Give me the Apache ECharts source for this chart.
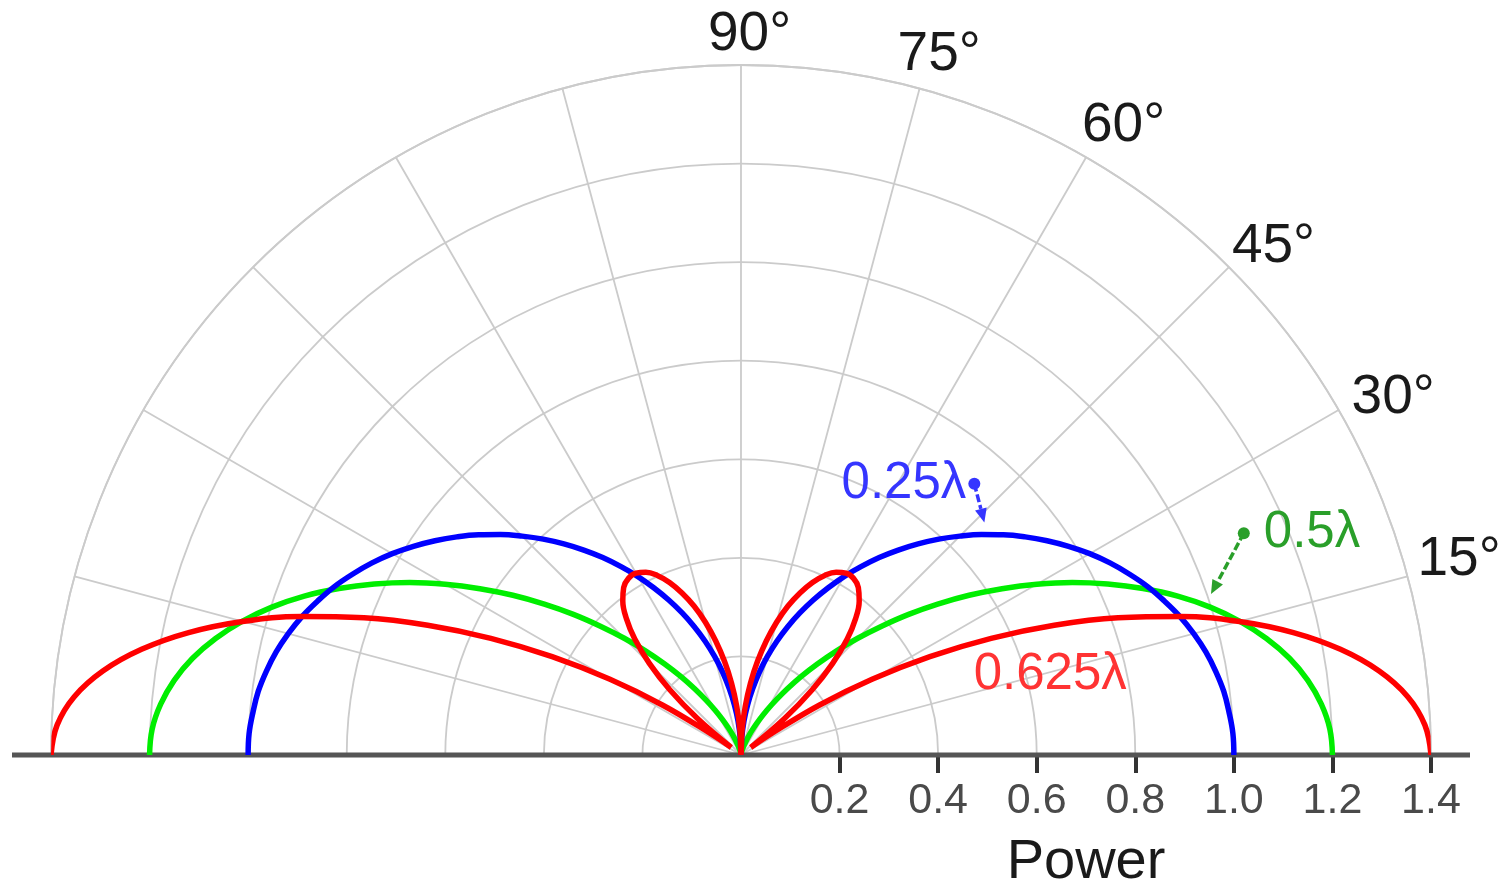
<!DOCTYPE html>
<html>
<head>
<meta charset="utf-8">
<script src="https://cdn.jsdelivr.net/npm/echarts@6/dist/echarts.min.js"></script>
<style>
html,body{margin:0;padding:0;background:#ffffff;}
#chart{width:1505px;height:886px;}
</style>
</head>
<body>
<div id="chart"></div>
<script>
// Elevation angles (degrees) of the right half of the pattern; the left half is its mirror image.
const angles = [0,2.5,5,7.5,10,12.5,15,17.5,20,22.5,25,27.5,30,32.5,35,37.5,40,42.5,45,47.5,50,52.5,55,57.5,60,62.5,65,67.5,70,72.5,75,77.5,80,82.5,85,87.5,90];

// Radial value ("Power") of each pattern at those angles
const blueR  = [1.000,0.999,0.994,0.988,0.978,0.966,0.951,0.934,0.914,0.893,0.869,0.844,0.817,0.788,0.758,0.727,0.695,0.662,0.628,0.594,0.559,0.524,0.489,0.453,0.418,0.382,0.347,0.312,0.277,0.242,0.207,0.172,0.137,0.103,0.069,0.034,0.000];
const greenR = [1.200,1.196,1.182,1.160,1.130,1.092,1.048,0.998,0.943,0.883,0.821,0.758,0.693,0.628,0.565,0.503,0.444,0.387,0.335,0.286,0.241,0.201,0.164,0.132,0.105,0.081,0.061,0.045,0.031,0.021,0.013,0.008,0.004,0.002,0.001,0.000,0.000];
const redR   = [1.400,1.389,1.358,1.306,1.235,1.148,1.047,0.935,0.814,0.688,0.560,0.432,0.307,0.188,0.077,0.025,0.116,0.196,0.263,0.319,0.362,0.394,0.415,0.425,0.426,0.418,0.402,0.379,0.350,0.317,0.279,0.237,0.193,0.147,0.099,0.050,0.000];

const seriesNames = ['0.5λ', '0.25λ', '0.625λ'];

// Axis ticks
const radiusMax = 1.4;
const radiusStep = 0.2;
const radiusTickValues = [0.2, 0.4, 0.6, 0.8, 1.0, 1.2, 1.4];
const radiusTickLabels = ['0.2', '0.4', '0.6', '0.8', '1.0', '1.2', '1.4'];
const angleTickValues = [15, 30, 45, 60, 75, 90];
const angleTickLabels = ['15°', '30°', '45°', '60°', '75°', '90°'];

// Annotations: text, anchor [r, angle], arrow tip [r, angle]
const annText   = ['0.25λ', '0.5λ', '0.625λ'];
const annAnchor = [[0.726, 49.3], [1.115, 23.8], [0.648, 14.5]];
const annTip    = [[0.683, 43.7], [1.008, 18.9], [0, 0]];
const annHasArrow = [1, 1, 0];

// ---- styles ----
const FONT = '"Liberation Sans", Arial, Helvetica, sans-serif';
const lineColors = ['#00ee00', '#0000ff', '#ff0000'];
const annColors = ['#3535ff', '#2a9f2a', '#ff3333'];
const annTextOffset = [[-8, 0, 'right'], [20, 0, 'left'], [0, 0, 'center']];
const angleLabelOffsets = [[10, -17], [13, -12], [3, -20], [-4, -32], [-22, -34], [-33, -30]];
const gridColor = '#cbcbcb';
const CX = 741, CY = 755, RADIUS = 690;

function fullPattern(r) {
  const right = angles.map((a, i) => [r[i], a]);
  const left = [];
  for (let i = angles.length - 2; i >= 0; i--) left.push([r[i], 180 - angles[i]]);
  return right.concat(left);
}

const chart = echarts.init(document.getElementById('chart'), null, {renderer: 'canvas'});

const patterns = [greenR, blueR, redR];

const option = {
  animation: false,
  backgroundColor: '#ffffff',
  polar: { center: [CX, CY], radius: RADIUS },
  angleAxis: {
    type: 'value', min: 0, max: 180, interval: 15,
    startAngle: 0, endAngle: 180, clockwise: false,
    axisLine: { show: true, lineStyle: { color: gridColor, width: 1.8 } },
    axisTick: { show: false },
    axisLabel: { show: false },
    splitLine: { show: true, lineStyle: { color: gridColor, width: 1.8 } }
  },
  radiusAxis: {
    type: 'value', min: 0, max: radiusMax, interval: radiusStep,
    axisLine: { show: false },
    axisTick: { show: true, length: -18, customValues: radiusTickValues, lineStyle: { color: '#333333', width: 4 } },
    axisLabel: {
      show: true, margin: -25, verticalAlign: 'top',
      customValues: radiusTickValues,
      color: '#4a4a4a', fontSize: 43, fontFamily: FONT,
      formatter: v => {
        const i = radiusTickValues.findIndex(t => Math.abs(t - v) < 1e-6);
        return i < 0 ? '' : radiusTickLabels[i];
      }
    },
    splitLine: { show: true, lineStyle: { color: gridColor, width: 1.8 } },
    name: 'Power', nameLocation: 'middle', nameGap: 80,
    nameTextStyle: { color: '#1a1a1a', fontSize: 56, fontFamily: FONT }
  },
  graphic: [{
    type: 'line', z: 1, silent: true,
    shape: { x1: CX - 729, y1: CY, x2: CX + 729, y2: CY },
    style: { stroke: '#555555', lineWidth: 5 }
  }],
  series: patterns.map((r, k) => ({
    name: seriesNames[k],
    type: 'line',
    coordinateSystem: 'polar',
    data: fullPattern(r),
    showSymbol: false,
    symbol: 'none',
    smooth: 0.4,
    z: 3 + k,
    lineStyle: { color: lineColors[k], width: 5.5 }
  })).concat([
    {
      type: 'custom',
      coordinateSystem: 'polar',
      silent: true,
      z: 10,
      data: angleTickValues.map((a, i) => [radiusMax, a, i]),
      renderItem: function (params, api) {
        const i = api.value(2);
        const p = api.coord([api.value(0), api.value(1)]);
        const off = angleLabelOffsets[i];
        return { type: 'text', x: p[0] + off[0], y: p[1] + off[1],
          style: { text: angleTickLabels[i], fill: '#1a1a1a', font: '55px ' + FONT, align: 'left', verticalAlign: 'middle' } };
      }
    },
    {
      type: 'custom',
      coordinateSystem: 'polar',
      silent: true,
      z: 10,
      data: annText.map((t, i) => [annAnchor[i][0], annAnchor[i][1], annTip[i][0], annTip[i][1], i]),
      renderItem: function (params, api) {
        const i = api.value(4);
        const a = api.coord([api.value(0), api.value(1)]);
        const color = annColors[i];
        const children = [];
        if (annHasArrow[i]) {
          const b = api.coord([api.value(2), api.value(3)]);
          const dx = b[0] - a[0], dy = b[1] - a[1];
          const len = Math.sqrt(dx * dx + dy * dy);
          const ux = dx / len, uy = dy / len;
          const head = 14, hw = 6;
          const bx = b[0] - ux * head, by = b[1] - uy * head;
          children.push({ type: 'line', shape: { x1: a[0], y1: a[1], x2: bx, y2: by },
            style: { stroke: color, lineWidth: 3.5, lineDash: [8, 3] } });
          children.push({ type: 'polygon', shape: { points: [[b[0], b[1]], [bx - uy * hw, by + ux * hw], [bx + uy * hw, by - ux * hw]] },
            style: { fill: color } });
          children.push({ type: 'circle', shape: { cx: a[0], cy: a[1], r: 6 }, style: { fill: color } });
        }
        const off = annTextOffset[i];
        children.push({ type: 'text', x: a[0] + off[0], y: a[1] + off[1],
          style: { text: annText[i], fill: color, font: '51px ' + FONT, align: off[2], verticalAlign: 'middle' } });
        return { type: 'group', children: children };
      }
    }
  ])
};

chart.setOption(option);
</script>
</body>
</html>
